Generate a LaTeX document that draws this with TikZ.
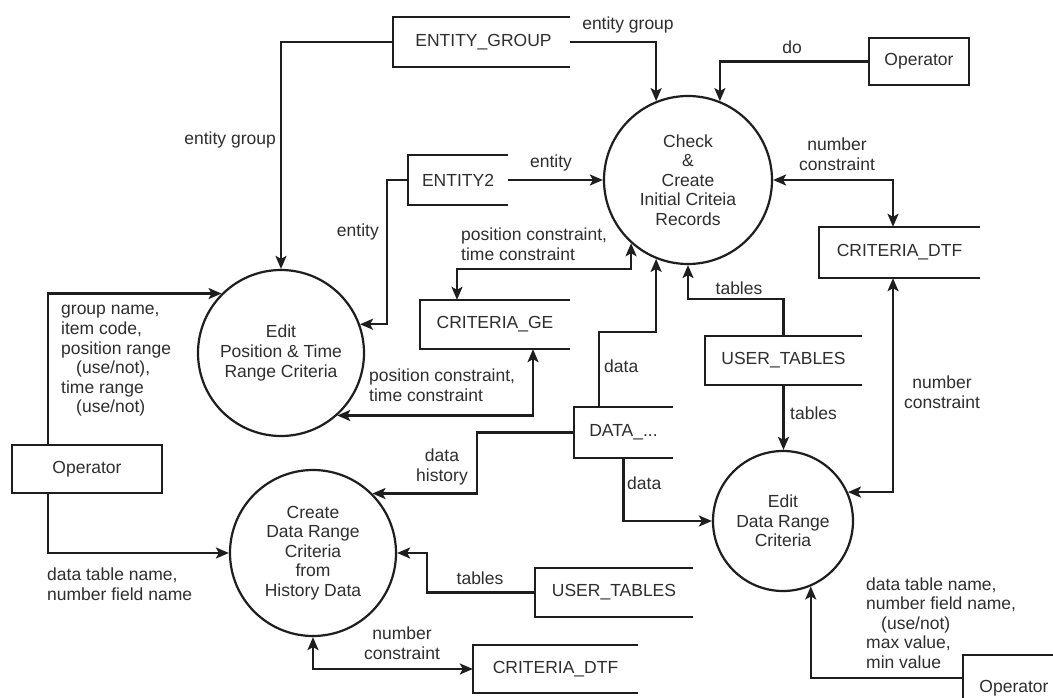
\documentclass[tikz,border=0pt]{standalone}
\usepackage{fontspec}
\setmainfont{Liberation Sans}
\usetikzlibrary{arrows.meta}
\definecolor{ink}{HTML}{1E1E1E}
\definecolor{txt}{HTML}{2E2E2E}
% open-ended data store: left side, top and bottom edges
\newcommand\openstore[1]{\draw[line] (#1.north east) -- (#1.north west) -- (#1.south west) -- (#1.south east);}
\begin{document}
\begin{tikzpicture}[x=1pt,y=-1pt,
  font=\fontsize{17.5}{19.6}\selectfont,
  every node/.style={text=txt, inner sep=0pt},
  line/.style={draw=ink, line width=2.2pt},
  tip/.tip={Stealth[length=13pt,width=11pt,inset=3pt]},
  flow/.style={line, -tip},
  flowboth/.style={line, tip-tip},
  process/.style={circle, draw=ink, line width=2.2pt, align=center},
  store/.style={rectangle, minimum height=50pt},
  extent/.style={rectangle, draw=ink, line width=2.2pt},
  lbl/.style={align=center},
  lbll/.style={align=left, anchor=west},
]
\fill[white] (0,0) rectangle (1053,698);
\clip (0,0) rectangle (1053,698);

% processes
\node[process, minimum size=168pt] (c1) at (688,180) {Check\\\&\\Create\\Initial Criteia\\Records};
\node[process, minimum size=166pt] (c2) at (281,353) {Edit\\Position \& Time\\Range Criteria};
\node[process, minimum size=166pt] (c3) at (313,553) {Create\\Data Range\\Criteria\\from\\History Data};
\node[process, minimum size=140pt] (c4) at (783,521) {Edit\\Data Range\\Criteria};

% data stores
\node[store, minimum width=177pt] (eg) at (481.5,42) {\hspace*{4pt}ENTITY\_GROUP};
\node[store, minimum width=100pt] (e2) at (458,180) {ENTITY2};
\node[store, minimum width=150pt, minimum height=49pt] (ge) at (495,324.5) {CRITERIA\_GE};
\node[store, minimum width=161pt, minimum height=51pt] (dtf1) at (899.5,252.5) {CRITERIA\_DTF};
\node[store, minimum width=157pt, minimum height=49pt] (ut1) at (783.5,360.5) {USER\_TABLES};
\node[store, minimum width=99pt, minimum height=51pt] (dat) at (623.5,432.5) {DATA\_...};
\node[store, minimum width=158pt, minimum height=49pt] (ut2) at (614,592.5) {USER\_TABLES};
\node[store, minimum width=165pt, minimum height=48pt] (dtf2) at (555.5,669) {CRITERIA\_DTF};
\openstore{eg}
\openstore{e2}
\openstore{ge}
\openstore{dtf1}
\openstore{ut1}
\openstore{dat}
\openstore{ut2}
\openstore{dtf2}

% external entities
\node[extent, minimum width=100pt, minimum height=47pt] (op1) at (919,61.5) {Operator};
\node[extent, minimum width=150pt, minimum height=48pt] (op2) at (87,469) {Operator};
\node[extent, minimum width=102pt, minimum height=66pt] (op3) at (1014,688) {Operator};

% flows
\draw[flow] (eg.west) -| (c2.north);
\draw[flow] (eg.east) -| (c1.112);
\draw[flow] (op1.west) -| (c1.68);
\draw[flow] (e2.east) -- (e2.east -| c1.west);
\draw[flow] (e2.west) -- ++(-21,0) |- (c2.20);
\draw[flowboth] (c1.228) -- ++(0,26) -| ([xshift=-38pt]ge.north);
\draw[flowboth] ([xshift=38pt]ge.south) |- (c2.312);
\draw[flow] ([xshift=-24.5pt]dat.north) -- ++(0,-75) -| (c1.248);
\draw[flow] (ut1.north) -- ++(0,-37) -| (c1.south);
\draw[flowboth] (c1.east) -| ([xshift=-6.5pt]dtf1.north);
\draw[flowboth] ([xshift=-6.5pt]dtf1.south) |- (c4.24);
\draw[flow] (ut1.south) -- (ut1.south |- c4.north);
\draw[flow] (dat.south) |- (c4.west);
\draw[flow] (dat.west) -- ++(-97,0) |- (c3.45);
\draw[flow] (ut2.west) -- ++(-108,0) |- (c3.east);
\draw[flowboth] (c3.south) |- (dtf2.west);
\draw[flow] ([xshift=-39pt]op2.north) |- (c2.135);
\draw[flow] ([xshift=-39pt]op2.south) |- (c3.west);
\draw[flow] ([yshift=10pt]op3.west) -| (c4.293);

% flow labels
\node[anchor=east] (l1) at (276,140) {entity group};
\node (l2) at (628,25) {entity group};
\node (l3) at (792,47) {do};
\node (l4) at (551,163) {entity};
\node[anchor=east] (l5) at (379,232) {entity};
\node[lbll] (l6) at (461,244.5) {position constraint,\\time constraint};
\node[lbll] (l7) at (369,385) {position constraint,\\time constraint};
\node[anchor=west] (l8) at (604,366) {data};
\node (l9) at (739,288) {tables};
\node[lbl] (l10) at (837,154) {number\\constraint};
\node[lbl] (l11) at (942,392.5) {number\\constraint};
\node[anchor=west] (l12) at (790,413) {tables};
\node[anchor=west] (l13) at (627,483) {data};
\node[lbl] (l14) at (442,467) {data\\history};
\node (l15) at (480,578) {tables};
\node[lbl] (l16) at (402,643) {number\\constraint};
\node[lbll] (l17) at (61,361) {group name,\\item code,\\position range\\\hspace*{15pt}(use/not),\\time range\\\hspace*{15pt}(use/not)};
\node[lbll] (l18) at (47,584) {data table name,\\number field name};
\node[lbll] (l19) at (866,623) {data table name,\\number field name,\\\hspace*{15pt}(use/not)\\max value,\\min value};
\end{tikzpicture}
\end{document}
